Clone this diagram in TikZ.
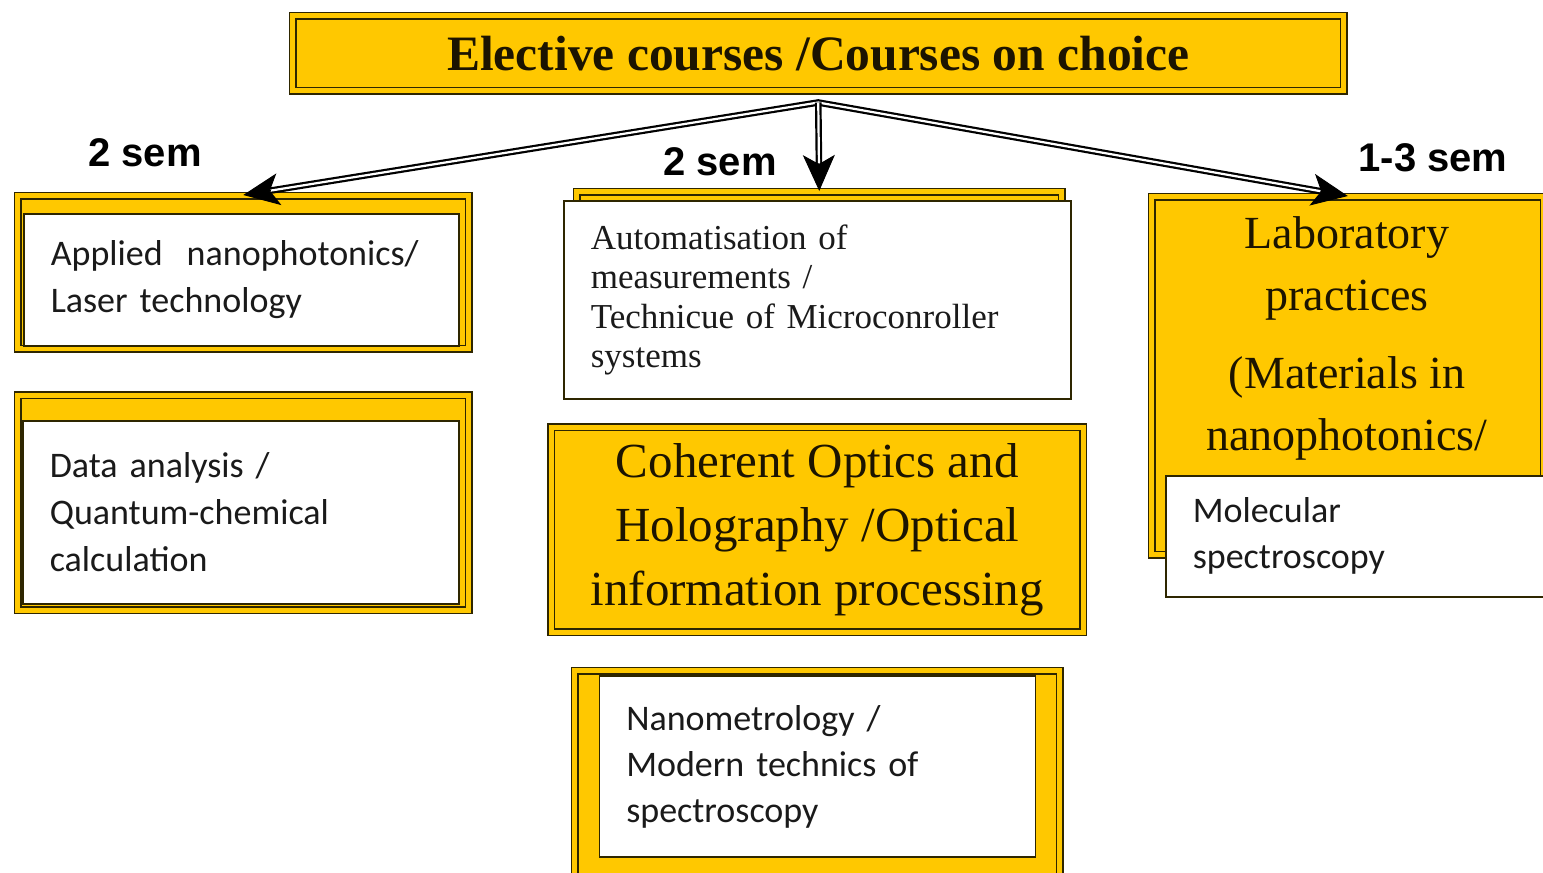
\documentclass[tikz,border=0pt]{standalone}
\usepackage{fontspec}
\setmainfont{Liberation Serif}
\newfontfamily\calibrifont{Carlito}
\newfontfamily\arialfont{Liberation Sans}
\usepackage{xcolor}
\usepackage{tikz}
\usetikzlibrary{arrows.meta,positioning,calc}
\definecolor{ElecGold}{HTML}{FFC800}
\definecolor{ElecEdge}{HTML}{2E2600}
\definecolor{ElecInk}{HTML}{1C1400}
\definecolor{ElecGrey}{HTML}{1A1A1A}

\begin{document}
\begin{tikzpicture}[
  x=1pt, y=-1pt,
  goldbox/.style={draw=ElecEdge, double=ElecGold, double distance=5pt, line width=1.5pt, fill=ElecGold, inner sep=0pt, align=center, text=ElecInk},
  paper/.style={draw=ElecEdge, fill=white, line width=1.6pt, inner xsep=27pt, inner ysep=0pt, align=left, text=ElecGrey},
  semlabel/.style={font=\arialfont\bfseries\fontsize{40}{44}\selectfont, text=black},
  rail/.style={draw=black, double=white, double distance=2.2pt, line width=2.2pt},
  headtip/.style={-{Stealth[length=36pt, width=32pt, inset=9pt]}, line width=1pt, black}
]
\useasboundingbox (0,0) rectangle (1543,873);
\clip (0,0) rectangle (1543,873);
\fill[white] (0,0) rectangle (1543,873);

\node[goldbox, anchor=north west, minimum width=1051pt, minimum height=75pt,
  font=\bfseries\fontsize{49.5}{54}\selectfont] (title) at (292,15) {Elective courses /Courses on choice};
\coordinate (hub) at ([yshift=-11pt]title.south);

% left column
\node[goldbox, anchor=north west, minimum width=451pt, minimum height=153pt] (apl) at (17,195) {};
\node[paper, anchor=north west, minimum width=435pt, minimum height=132pt, text width=381pt,
  font=\calibrifont\fontsize{36}{47}\selectfont] (apltext) at (23,213) {Applied\ \ nanophotonics/\\Laser technology};
\node[goldbox, below=45pt of apl, minimum width=451pt, minimum height=215pt] (dat) {};
\node[paper, anchor=north west, minimum width=436pt, minimum height=183pt, text width=382pt,
  font=\calibrifont\fontsize{36}{47}\selectfont] (dattext) at (22,420) {Data analysis /\\Quantum-chemical\\calculation};

% middle column
\node[goldbox, anchor=north west, minimum width=485pt, minimum height=30pt] (autostrip) at (576,191) {};
\node[paper, anchor=north west, minimum width=507pt, minimum height=198pt, text width=453pt,
  font=\fontsize{35}{39.5}\selectfont] (auto) at (563,200) {Automatisation of\\measurements /\\Technicue of Microconroller\\systems};
\node[goldbox, below=27pt of auto, minimum width=532pt, minimum height=205pt,
  font=\fontsize{49}{64}\selectfont] (coh) {Coherent Optics and\\Holography /Optical\\information processing};
\node[goldbox, below=37pt of coh, minimum width=485pt, minimum height=225pt] (nano) {};
\node[paper, anchor=north, minimum width=436pt, minimum height=181pt, text width=382pt,
  font=\calibrifont\fontsize{36}{46}\selectfont] (nanotext) at ([yshift=-5pt]nano.north) {Nanometrology /\\Modern technics of\\spectroscopy};

% right column
\node[goldbox, anchor=north west, minimum width=392pt, minimum height=358pt] (lab) at (1151,196) {};
\node[anchor=north, inner sep=0pt, align=center, text=ElecInk, font=\fontsize{46}{62}\selectfont]
  (labtitle) at (1347,216) {Laboratory\\practices\\[16pt](Materials in\\nanophotonics/};
\node[paper, anchor=north west, minimum width=385pt, minimum height=121pt, text width=331pt,
  font=\calibrifont\fontsize{36}{46}\selectfont] (mol) at (1165,475) {Molecular\\spectroscopy};

% connectors
\draw[rail, shorten <=14pt, shorten >=14pt] (apl.north) -- (hub) -- (lab.north);
\draw[rail, shorten >=14pt] (hub) -- (autostrip.north);
\foreach \dest in {apl, autostrip, lab}
  \draw[headtip] ($(\dest.north)!28pt!(hub)$) -- (\dest.north);

\node[semlabel] (semleft) at (145,153) {2 sem};
\node[semlabel] (semmid) at (720,162) {2 sem};
\node[semlabel] (semright) at (1433,158) {1-3 sem};
\end{tikzpicture}
\end{document}
